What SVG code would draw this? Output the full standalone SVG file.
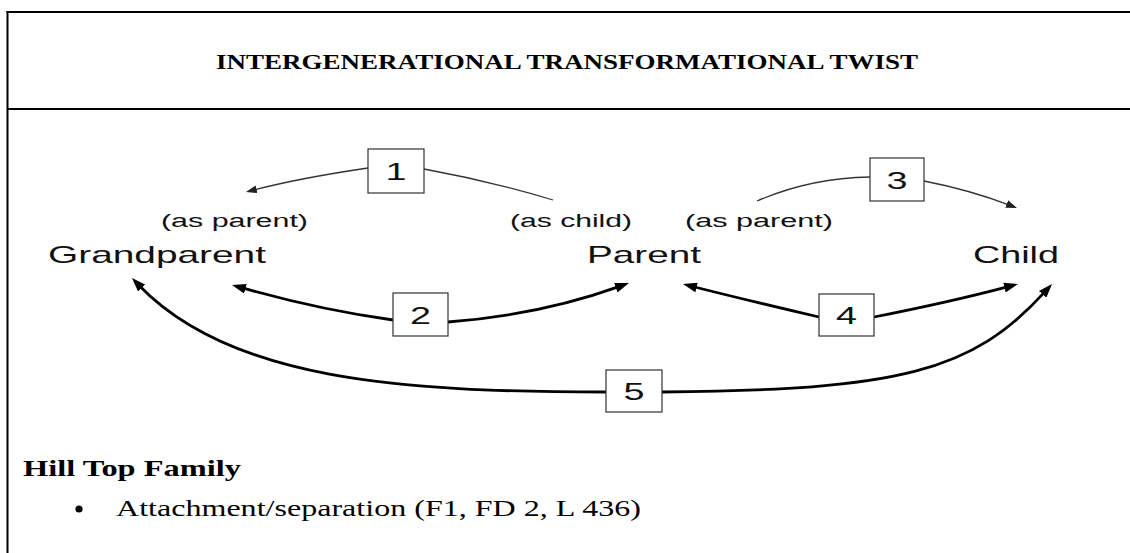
<svg xmlns="http://www.w3.org/2000/svg" width="1130" height="553" viewBox="0 0 1130 553">
  <style>
    .frame { stroke: #000; stroke-width: 2; fill: none; }
    .title { font-family: "Liberation Serif", "Times New Roman", serif; font-weight: bold; font-size: 22px; fill: #000; }
    .note-head { font-family: "Liberation Serif", "Times New Roman", serif; font-weight: bold; font-size: 23px; fill: #000; }
    .note { font-family: "Liberation Serif", "Times New Roman", serif; font-size: 23px; fill: #000; }
    .who { font-family: "Liberation Sans", Arial, sans-serif; font-size: 24px; fill: #111; }
    .role { font-family: "Liberation Sans", Arial, sans-serif; font-size: 18px; fill: #111; }
    .box { fill: #fff; stroke: #333; stroke-width: 1.2; }
    .num { font-family: "Liberation Sans", Arial, sans-serif; font-size: 24px; fill: #111; }
    .thin { fill: none; stroke: #333; stroke-width: 1.3; marker-end: url(#headThin); }
    .thin-plain { fill: none; stroke: #333; stroke-width: 1.3; }
    .thick { fill: none; stroke: #000; stroke-width: 2.8; marker-end: url(#headThick); }
    .thick-plain { fill: none; stroke: #000; stroke-width: 2.8; }
  </style>
  <defs>
    <marker id="headThin" markerUnits="userSpaceOnUse" markerWidth="11" markerHeight="8" refX="3" refY="4" orient="auto">
      <path d="M0,0 L11,4 L0,8 z" fill="#222"/>
    </marker>
    <marker id="headThick" markerUnits="userSpaceOnUse" markerWidth="14" markerHeight="10" refX="4" refY="5" orient="auto">
      <path d="M0,0 L14,5 L0,10 z" fill="#000"/>
    </marker>
  </defs>

  <rect width="1130" height="553" fill="#fff"/>

  <!-- table frame -->
  <g id="frame">
    <line class="frame" x1="6.5" y1="12" x2="1130" y2="12"/>
    <line class="frame" x1="7.5" y1="11" x2="7.5" y2="553"/>
    <line class="frame" x1="7.5" y1="109" x2="1130" y2="109"/>
  </g>

  <g id="title">
    <text class="title" x="216" y="69" textLength="702" lengthAdjust="spacingAndGlyphs">INTERGENERATIONAL TRANSFORMATIONAL TWIST</text>
  </g>

  <!-- connectors -->
  <g id="connectors">
    <!-- 1: parent (as child) back to grandparent (as parent) -->
    <path class="thin-plain" d="M553,200 Q490,181 424,169"/>
    <path class="thin" d="M368,168 Q300,178 253.7,190"/>
    <!-- 3: parent (as parent) to child -->
    <path class="thin-plain" d="M757,201 Q810,178 870,177"/>
    <path class="thin" d="M924,181 Q970,190 1009.5,205.1"/>
    <!-- 2: grandparent <-> parent -->
    <path class="thick" d="M393,320 Q320,310 241.6,287.7"/>
    <path class="thick" d="M448,322 Q540,315 619.6,286.4"/>
    <!-- 4: parent <-> child -->
    <path class="thick" d="M819,317 Q750,301 692.7,286.5"/>
    <path class="thick" d="M874,317 Q950,302 1008.3,286.6"/>
    <!-- 5: grandparent <-> child -->
    <path class="thick" d="M606,392 C400,392 230,380 138.9,285.2"/>
    <path class="thick" d="M662,392 C900,390 972,372 1045.3,291.4"/>
  </g>

  <!-- generations -->
  <g id="grandparent">
    <text class="role" x="161" y="227" textLength="147" lengthAdjust="spacingAndGlyphs">(as parent)</text>
    <text class="who" x="48" y="263" textLength="218" lengthAdjust="spacingAndGlyphs">Grandparent</text>
  </g>
  <g id="parent">
    <text class="role" x="510" y="227" textLength="122" lengthAdjust="spacingAndGlyphs">(as child)</text>
    <text class="role" x="685" y="227" textLength="148" lengthAdjust="spacingAndGlyphs">(as parent)</text>
    <text class="who" x="587" y="263" textLength="114" lengthAdjust="spacingAndGlyphs">Parent</text>
  </g>
  <g id="child">
    <text class="who" x="973" y="263" textLength="86" lengthAdjust="spacingAndGlyphs">Child</text>
  </g>

  <!-- numbered links -->
  <g id="link-1">
    <rect class="box" x="368" y="149" width="56" height="44"/>
    <text class="num" x="385.5" y="180" textLength="21" lengthAdjust="spacingAndGlyphs">1</text>
  </g>
  <g id="link-2">
    <rect class="box" x="393" y="293" width="55" height="43"/>
    <text class="num" x="410" y="323.5" textLength="21" lengthAdjust="spacingAndGlyphs">2</text>
  </g>
  <g id="link-3">
    <rect class="box" x="870" y="158" width="54" height="43"/>
    <text class="num" x="886.5" y="188.5" textLength="21" lengthAdjust="spacingAndGlyphs">3</text>
  </g>
  <g id="link-4">
    <rect class="box" x="819" y="294" width="55" height="42"/>
    <text class="num" x="836" y="324" textLength="21" lengthAdjust="spacingAndGlyphs">4</text>
  </g>
  <g id="link-5">
    <rect class="box" x="606" y="370" width="56" height="42"/>
    <text class="num" x="623.5" y="400" textLength="21" lengthAdjust="spacingAndGlyphs">5</text>
  </g>

  <!-- family notes -->
  <g id="notes">
    <text class="note-head" x="23" y="476" textLength="218" lengthAdjust="spacingAndGlyphs">Hill Top Family</text>
    <circle cx="79" cy="509" r="3.6" fill="#000"/>
    <text class="note" x="116" y="516" textLength="525" lengthAdjust="spacingAndGlyphs">Attachment/separation (F1, FD 2, L 436)</text>
  </g>
</svg>
